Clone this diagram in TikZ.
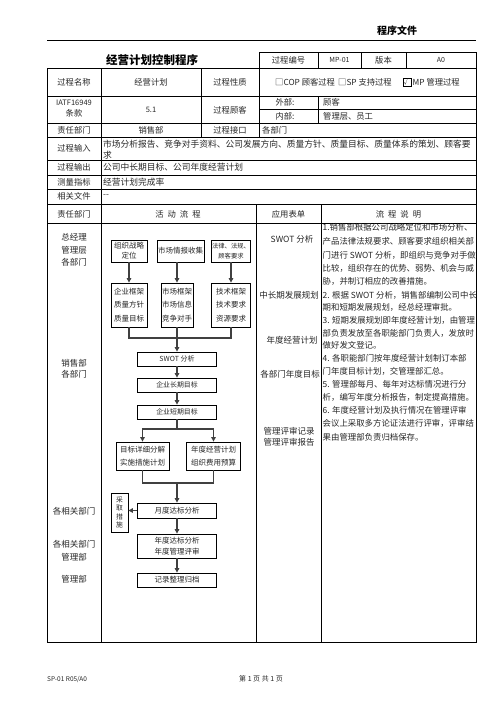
\documentclass[tikz,border=0pt]{standalone}
\usepackage{fontspec}
\setmainfont{Noto Sans CJK SC}
\usetikzlibrary{arrows.meta}
\begin{document}
\begin{tikzpicture}[x=1pt,y=-1pt,
  every node/.style={inner sep=0pt, text=black!85},
  tl/.style={line width=0.7pt},
  cell/.style={font=\fontsize{8.3}{10}\selectfont},
  desc/.style={font=\fontsize{8.4}{10}\selectfont, anchor=west},
  dept/.style={font=\fontsize{8.5}{12.5}\selectfont, align=center},
  flowbox/.style={draw=black, line width=0.8pt, align=center, font=\fontsize{7.5}{13.5}\selectfont},
  arr/.style={line width=1.2pt, draw=black!75, -{Triangle[length=4.5pt,width=4.5pt]}},
  ln/.style={line width=1.2pt, draw=black!75}]
\useasboundingbox (0,0) rectangle (496,702);
% header
\node[font=\bfseries\fontsize{10}{12}\selectfont, text=black] (hdr) at (397,31) {程序文件};
\draw[line width=0.8pt] (47,40) -- (476,40);
\node[font=\bfseries\fontsize{11.5}{13}\selectfont, text=black] (title) at (152,60) {经营计划控制程序};
% header box
\draw[tl] (259,52) rectangle (476,68);
\draw[tl] (318,52) -- (318,68) (361,52) -- (361,68) (406,52) -- (406,68);
\node[cell] (h1) at (288.5,60) {过程编号};
\node[cell, font=\fontsize{7}{8}\selectfont] (h2) at (339.5,60) {MP-01};
\node[cell] (h3) at (383.5,60) {版本};
\node[cell, font=\fontsize{7}{8}\selectfont] (h4) at (441,60) {A0};
% main table lines
\draw[tl] (47,68) rectangle (476,642);
\foreach \yy in {96,123,137,160,175,189,204,223} \draw[tl] (47,\yy) -- (476,\yy);
\draw[tl] (259,109) -- (476,109);
\draw[tl] (101,68) -- (101,642);
\draw[tl] (201,68) -- (201,137);
\draw[tl] (259,68) -- (259,137);
\draw[tl] (318,96) -- (318,123);
\draw[tl] (256,204) -- (256,642);
\draw[tl] (321,204) -- (321,642);
% row 2
\node[cell] (r2a) at (74,82) {过程名称};
\node[cell] (r2b) at (151,82) {经营计划};
\node[cell] (r2c) at (230,82) {过程性质};
\node[cell, anchor=west] (cop) at (275,82) {□COP 顾客过程};
\node[cell, anchor=west] (sp) at (338,82) {□SP 支持过程};
\node[draw=black, line width=0.5pt, minimum size=7.5pt, font=\fontsize{6.5}{7}\selectfont, anchor=west] (chk) at (403,82) {√};
\node[cell, anchor=west] (mp) at ([xshift=1.5pt]chk.east) {MP 管理过程};
% row 3
\node[cell, font=\fontsize{7.5}{9}\selectfont] (r3a) at (74,102.5) {IATF16949};
\node[cell] (r3a2) at (74,113.5) {条款};
\node[cell, font=\fontsize{7.5}{9}\selectfont] (r3b) at (151,110) {5.1};
\node[cell] (r3c) at (230,110) {过程顾客};
\node[cell] (r3d) at (285,102.5) {外部:};
\node[cell, anchor=west] (r3e) at (323,102.5) {顾客};
\node[cell] (r3f) at (285,116) {内部:};
\node[cell, anchor=west] (r3g) at (323,116) {管理层、员工};
% row 4
\node[cell] (r4a) at (74,130) {责任部门};
\node[cell] (r4b) at (151,130) {销售部};
\node[cell] (r4c) at (230,130) {过程接口};
\node[cell, anchor=west] (r4d) at (262,130) {各部门};
% row 5-8
\node[cell] (r5a) at (74,148.5) {过程输入};
\node[cell, anchor=west, font=\fontsize{8.75}{10}\selectfont] (r5b) at (103,144) {市场分析报告、竞争对手资料、公司发展方向、质量方针、质量目标、质量体系的策划、顾客要};
\node[cell, anchor=west, font=\fontsize{8.75}{10}\selectfont] (r5c) at (103,155) {求};
\node[cell] (r6a) at (74,167.5) {过程输出};
\node[cell, anchor=west, font=\fontsize{8.75}{10}\selectfont] (r6b) at (103,167.5) {公司中长期目标、公司年度经营计划};
\node[cell] (r7a) at (74,182) {测量指标};
\node[cell, anchor=west, font=\fontsize{8.75}{10}\selectfont] (r7b) at (103,182) {经营计划完成率};
\node[cell] (r8a) at (74,196.5) {相关文件};
\node[cell, anchor=west] (r8b) at (103,196.5) {-{}-};
% row 9
\node[cell] (r9a) at (74,214.5) {责任部门};
\node[cell] (r9b) at (178,214.5) {活\hspace{4pt}动\hspace{4pt}流\hspace{4pt}程};
\node[cell] (r9c) at (288.5,214.5) {应用表单};
\node[cell] (r9d) at (398.5,214.5) {流\hspace{4pt}程\hspace{4pt}说\hspace{4pt}明};
% departments
\node[dept] (d1) at (74,250) {总经理\\管理层\\各部门};
\node[dept, font=\fontsize{8.5}{11}\selectfont] (d2) at (74,369) {销售部\\各部门};
\node[dept] (d3) at (74,511) {各相关部门};
\node[dept] (d4) at (74,550.5) {各相关部门\\管理部};
\node[dept] (d5) at (74,579) {管理部};
% forms
\node[dept] (f1) at (292,239) {SWOT 分析};
\node[dept] (f2) at (289,295) {中长期发展规划};
\node[dept] (f3) at (292,340) {年度经营计划};
\node[dept] (f4) at (290,374) {各部门年度目标};
\node[dept, font=\fontsize{8.5}{10.5}\selectfont] (f5) at (289,437) {管理评审记录\\管理评审报告};
% description lines
\node[desc] (t1) at (322.5,227) {1.销售部根据公司战略定位和市场分析、};
\node[desc] (t2) at (322.5,241) {产品法律法规要求、顾客要求组织相关部};
\node[desc] (t3) at (322.5,255) {门进行 SWOT 分析，即组织与竞争对手做};
\node[desc] (t4) at (322.5,268.5) {比较，组织存在的优势、弱势、机会与威};
\node[desc] (t5) at (322.5,281) {胁，并制订相应的改善措施。};
\node[desc] (t6) at (322.5,295) {2. 根据 SWOT 分析，销售部编制公司中长};
\node[desc] (t7) at (322.5,307.5) {期和短期发展规划，经总经理审批。};
\node[desc] (t8) at (322.5,320) {3. 短期发展规划即年度经营计划，由管理};
\node[desc] (t9) at (322.5,333) {部负责发放至各职能部门负责人，发放时};
\node[desc] (t10) at (322.5,345.5) {做好发文登记。};
\node[desc] (t11) at (322.5,358) {4. 各职能部门按年度经营计划制订本部};
\node[desc] (t12) at (322.5,371.5) {门年度目标计划，交管理部汇总。};
\node[desc] (t13) at (322.5,384) {5. 管理部每月、每年对达标情况进行分};
\node[desc] (t14) at (322.5,397) {析，编写年度分析报告，制定提高措施。};
\node[desc] (t15) at (322.5,410) {6. 年度经营计划及执行情况在管理评审};
\node[desc] (t16) at (322.5,423) {会议上采取多方论证法进行评审，评审结};
\node[desc] (t17) at (322.5,437) {果由管理部负责归档保存。};
% flowchart boxes
\node[flowbox, minimum width=36pt, minimum height=22pt, font=\fontsize{7.5}{10}\selectfont] (A1) at (129,251) {组织战略\\定位};
\node[flowbox, minimum width=47pt, minimum height=22pt] (A2) at (180.5,251) {市场情报收集};
\node[flowbox, minimum width=39pt, minimum height=22pt, font=\fontsize{6.3}{10}\selectfont] (A3) at (231,251) {法律、法规、\\顾客要求};
\node[flowbox, minimum width=36pt, minimum height=44pt] (B1) at (129,305) {企业框架\\质量方针\\质量目标};
\node[flowbox, minimum width=32pt, minimum height=44pt] (B2) at (177,305) {市场框架\\市场信息\\竞争对手};
\node[flowbox, minimum width=39pt, minimum height=44pt] (B3) at (231,305) {技术框架\\技术要求\\资源要求};
\node[flowbox, minimum width=79pt, minimum height=14pt, font=\fontsize{7}{9}\selectfont] (C) at (177,359) {SWOT 分析};
\node[flowbox, minimum width=79pt, minimum height=14pt, font=\fontsize{6.9}{9}\selectfont] (D) at (177,385) {企业长期目标};
\node[flowbox, minimum width=79pt, minimum height=14pt, font=\fontsize{6.9}{9}\selectfont] (E) at (177,412) {企业短期目标};
\node[flowbox, minimum width=53pt, minimum height=28pt] (F1) at (142.5,456) {目标详细分解\\实施措施计划};
\node[flowbox, minimum width=54pt, minimum height=28pt] (F2) at (213.5,456) {年度经营计划\\组织费用预算};
\node[flowbox, minimum width=79pt, minimum height=15pt] (G) at (177,510.5) {月度达标分析};
\node[flowbox, minimum width=17pt, minimum height=39pt, font=\fontsize{6.8}{8.6}\selectfont] (H) at (119.5,512.5) {采\\取\\措\\施};
\node[flowbox, minimum width=79pt, minimum height=24pt, font=\fontsize{7.5}{11}\selectfont] (I) at (177,546) {年度达标分析\\年度管理评审};
\node[flowbox, minimum width=79pt, minimum height=14pt] (J) at (177,580) {记录整理归档};
% connectors
\coordinate (m1) at (177,338);
\coordinate (s1) at (177,429);
\coordinate (m2) at (177,483);
\draw[arr] (A1) -- (B1);
\draw[arr] (A2.south -| B2.north) -- (B2.north);
\draw[arr] (A3) -- (B3);
\draw[ln] (B1.south) |- (m1) -| (B3.south);
\draw[arr] (B2) -- (C);
\draw[arr] (C) -- (D);
\draw[arr] (D) -- (E);
\draw[ln] (E.south) -- (s1);
\draw[arr] (s1) -| (F1.north);
\draw[arr] (s1) -| (F2.north);
\draw[ln] (F1.south) |- (m2) -| (F2.south);
\draw[arr] (m2) -- (G.north);
\draw[arr] (G.west) -- (G.west -| H.east);
\draw[arr] (G) -- (I);
\draw[arr] (I) -- (J);
% footer
\node[font=\fontsize{6.5}{8}\selectfont, anchor=west] (foot1) at (47,679) {SP-01 R05/A0};
\node[font=\fontsize{7}{8}\selectfont] (foot2) at (261,679) {第 1 页 共 1 页};
\end{tikzpicture}
\end{document}
